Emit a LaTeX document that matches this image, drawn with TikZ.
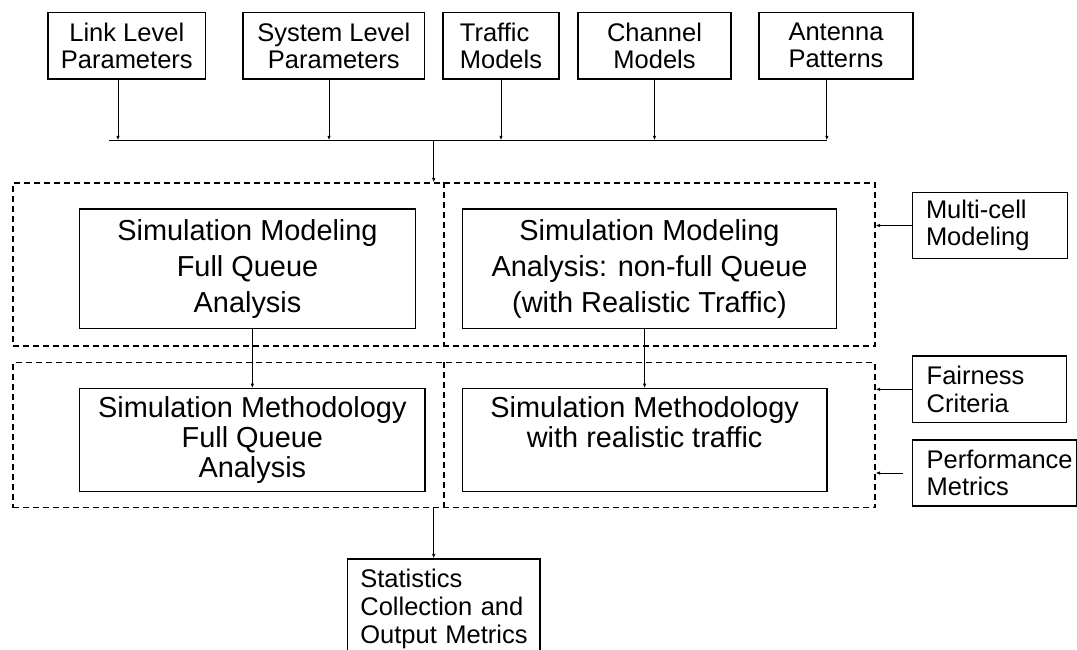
\documentclass[tikz,border=0pt]{standalone}
\usepackage{fontspec}
\setmainfont{Liberation Sans}
\usetikzlibrary{arrows.meta}
\begin{document}
\begin{tikzpicture}[x=1pt,y=-1pt,
  box/.style={draw, line width=1.2pt, inner sep=0pt, align=center},
  lbox/.style={draw, line width=1.2pt, inner ysep=0pt, align=left},
  dbox/.style={draw, line width=1.1pt, dash pattern=on 6pt off 4pt, inner sep=0pt},
  dline/.style={line width=1.1pt, dash pattern=on 6pt off 4pt},
  bus/.style={line width=1.1pt},
  arr/.style={line width=1pt, -{Latex[length=4.5pt,width=3.5pt]}},
  smallfont/.style={font=\fontsize{25.5}{27}\selectfont},
  sidefont/.style={font=\fontsize{25.5}{27.5}\selectfont},
  bigtop/.style={font=\fontsize{28.9}{36}\selectfont},
  bigbot/.style={font=\fontsize{28.9}{30}\selectfont}]
\useasboundingbox (0,0) rectangle (1077,649);

% top input boxes
\node[box, smallfont, minimum width=157.6pt, minimum height=66.7pt] (link) at (126.8,45.65) {Link Level\\Parameters};
\node[box, smallfont, minimum width=181.6pt, minimum height=66.7pt] (sys) at (333.8,45.65) {System Level\\Parameters};
\node[box, smallfont, align=left, minimum width=116pt, minimum height=66.7pt] (traf) at (501,45.65) {Traffic\\Models};
\node[box, smallfont, minimum width=153pt, minimum height=66.7pt] (chan) at (654.5,45.65) {Channel\\Models};
\node[box, smallfont, minimum width=154pt, minimum height=66.7pt] (ant) at (836,45.65) {Antenna\\Patterns};

% bus
\coordinate (busL) at (108.5,140.3);
\coordinate (busR) at (826.8,140.3);
\coordinate (bLink) at (118,140.3);
\coordinate (bSys) at (329,140.3);
\coordinate (bTraf) at (501,140.3);
\coordinate (bChan) at (654.5,140.3);
\coordinate (bAnt) at (826.8,140.3);
\coordinate (j) at (433.7,140.3);
\draw[bus] (busL) -- (busR);
\draw[arr] (bLink |- link.south) -- (bLink);
\draw[arr] (bSys |- sys.south) -- (bSys);
\draw[arr] (bTraf |- traf.south) -- (bTraf);
\draw[arr] (bChan |- chan.south) -- (bChan);
\draw[arr] (bAnt |- ant.south) -- (bAnt);

% dashed groups
\node[dbox, minimum width=862pt, minimum height=163pt] (dTop) at (444,264.5) {};
\node[dbox, minimum width=862pt, minimum height=145pt] (dBot) at (444,435.2) {};
\coordinate (div) at (444,0);
\draw[dline] (div |- dTop.north) -- (div |- dTop.south);
\draw[dline] (div |- dBot.north) -- (div |- dBot.south);

\draw[arr] (j) -- (j |- dTop.north);

% inner boxes
\node[box, bigtop, minimum width=335.6pt, minimum height=119.7pt] (tl) at (247.5,268.85) {Simulation Modeling\\Full Queue\\Analysis};
\node[box, bigtop, minimum width=374.4pt, minimum height=119.7pt] (tr) at (649.5,268.85) {Simulation Modeling\\Analysis: non-full Queue\\(with Realistic Traffic)};
\node[box, bigbot, minimum width=345.3pt, minimum height=102.6pt] (bl) at (252.35,440) {Simulation Methodology\\Full Queue\\Analysis};
\node[box, bigbot, minimum width=364.7pt, minimum height=102.6pt] (br) at (644.65,440) {Simulation Methodology\\with realistic traffic\\\rule[-6pt]{0pt}{6pt}};

\draw[arr] (bl.north |- tl.south) -- (bl.north);
\draw[arr] (br.north |- tr.south) -- (br.north);

% side boxes
\node[lbox, sidefont, inner xsep=13.3pt, text width=128.4pt, minimum height=65.6pt] (mc) at (990.2,225.5) {Multi-cell\\Modeling};
\node[lbox, sidefont, inner xsep=14pt, text width=126pt, minimum height=66.7pt] (fair) at (989.7,389.35) {Fairness\\Criteria};
\node[lbox, sidefont, inner xsep=14pt, text width=136pt, minimum height=66pt] (perf) at (994.7,473) {\mbox{Performance}\\Metrics};

\draw[arr] (mc.west) -- (mc.west -| dTop.east);
\draw[arr] (fair.west) -- (fair.west -| dBot.east);
\draw[arr, shorten <=8.7pt] (perf.west) -- (perf.west -| dBot.east);

% output box (cut off at the bottom)
\node[lbox, font=\fontsize{25.5}{28}\selectfont, inner xsep=13pt, text width=166.7pt, minimum height=100pt] (stat) at (443.7,609) {Statistics\\\mbox{Collection and}\\\mbox{Output Metrics}};
\draw[arr] (j |- dBot.south) -- (j |- stat.north);
\end{tikzpicture}
\end{document}
